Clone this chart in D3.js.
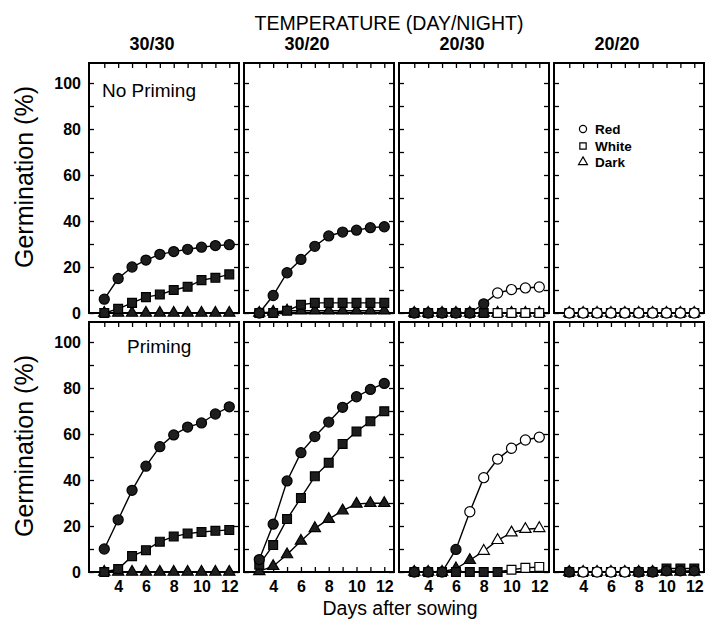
<!DOCTYPE html>
<html><head><meta charset="utf-8">
<script src="https://cdn.jsdelivr.net/npm/d3@7"></script>
<style>
html,body{margin:0;padding:0;background:#fff;}
text{font-family:"Liberation Sans",Arial,Helvetica,sans-serif;fill:#000;}
</style></head>
<body><svg id="chart" width="706" height="622"></svg>
<script>
// ---- data ----
const days = [3,4,5,6,7,8,9,10,11,12];
const temps = ["30/30","30/20","20/30","20/20"];
const treatments = ["No Priming","Priming"];
const seriesNames = ["Red","White","Dark"];
const yTicks = [0,20,40,60,80,100];
const xTickLabels = [4,6,8,10,12];

// No priming, one array per temperature (30/30, 30/20, 20/30, 20/20)
const noPrimingRed = [
  [6,15,20,23,25.5,26.7,27.7,28.6,29.3,29.7],
  [0,7.6,17.5,23.3,29,33.5,35.2,36,37.1,37.5],
  [0,0,0,0,0,4,8.7,10.2,10.9,11.3],
  [0,0,0,0,0,0,0,0,0,0]
];
const noPrimingWhite = [
  [0,1.8,4.4,6.9,8,10,11.4,14.3,15.3,16.8],
  [0,0,1,3.6,4.4,4.4,4.4,4.4,4.4,4.4],
  [0,0,0,0,0,0,0,0,0,0],
  [0,0,0,0,0,0,0,0,0,0]
];
const noPrimingDark = [
  [0,0,0,0,0,0,0,0,0,0],
  [0,0.5,1,1,1,1,1,1,1,1],
  [0,0,0,0,0,0,0,0,0,0],
  [0,0,0,0,0,0,0,0,0,0]
];
const primingRed = [
  [10,22.7,35.5,46,54.5,59.6,63,64.8,68.7,71.8],
  [5.4,20.8,39.6,51.9,58.9,65.2,71.6,76.2,79.4,82],
  [0,0,0,9.8,26.2,41,49.1,53.8,57.4,58.6],
  [0,0,0,0,0,0,0,0.5,0.5,0.5]
];
const primingWhite = [
  [0,1.3,6.9,9.5,13.2,15.4,16.7,17.4,17.9,18.3],
  [3.2,11.7,23,32.2,41.6,47.5,55.7,61.1,65.5,69.9],
  [0,0,0,0,0,0,0,1,1.8,2.2],
  [0,0,0,0,0,0,0,1.5,1.5,1.5]
];
const primingDark = [
  [0,0,0,0,0,0,0,0,0,0],
  [0.3,2.5,7.6,13.5,19,23,26.7,29.6,29.9,29.9],
  [0,0,0,1.5,5.1,9.1,13.8,17.1,18.6,19],
  [0,0,0,0,0,0,0,0,0,0]
];

// ---- styles (which markers appear open in the scan) ----
const openDays = {
  "0-2-Red":[9,10,11,12], "0-2-White":[9,10,11,12],
  "0-3-Red":days, "0-3-White":days, "0-3-Dark":days,
  "1-2-Red":[7,8,9,10,11,12], "1-2-Dark":[8,9,10,11,12], "1-2-White":[10,11,12],
  "1-3-Red":[4,5,6,7]
};

const dataByRow = [
  {Red:noPrimingRed, White:noPrimingWhite, Dark:noPrimingDark},
  {Red:primingRed, White:primingWhite, Dark:primingDark}
];

const svg = d3.select("#chart");
const panelLefts = [89,244,399,554];
const panelW = 150, panelH = 250;
const panelTops = [63,322];

const x0 = d3.scaleLinear().domain([1.9,12.7]).range([0,panelW]);
const y0 = d3.scaleLinear().domain([0,108.7]).range([panelH,0]);

const symType = {Red:d3.symbolCircle, White:d3.symbolSquare, Dark:d3.symbolTriangle};
const symSize = {Red:80, White:78, Dark:55};

// Title and column headers
svg.append("text").attr("x",389).attr("y",30).attr("text-anchor","middle")
  .style("font-size","19.5px").text("TEMPERATURE (DAY/NIGHT)");
temps.forEach((t,i)=>{
  svg.append("text").attr("x",panelLefts[i]+panelW/2-12).attr("y",50)
    .attr("text-anchor","middle").style("font-size","18px").style("font-weight","bold").text(t);
});

const yLabelCenters = [177,446];

treatments.forEach((tr,r)=>{
  // Y label
  svg.append("text")
    .attr("transform",`translate(33,${yLabelCenters[r]}) rotate(-90)`)
    .attr("text-anchor","middle").style("font-size","25px").text("Germination (%)");

  temps.forEach((t,c)=>{
    const g = svg.append("g").attr("transform",`translate(${panelLefts[c]},${panelTops[r]})`);
    // ticks inward
    const yMinor = d3.range(0,101,10);
    const yAxisL = d3.axisLeft(y0).tickValues(yMinor).tickSize(-5).tickFormat("");
    const yAxisR = d3.axisRight(y0).tickValues(yMinor).tickSize(-5).tickFormat("");
    const xAxisT = d3.axisTop(x0).tickValues(days).tickSize(-5).tickFormat("");
    const xAxisB = d3.axisBottom(x0).tickValues(days).tickSize(-5).tickFormat("");
    [g.append("g").call(yAxisL),
     g.append("g").attr("transform",`translate(${panelW},0)`).call(yAxisR),
     g.append("g").call(xAxisT),
     g.append("g").attr("transform",`translate(0,${panelH})`).call(xAxisB)]
      .forEach(a=>{a.select(".domain").remove(); a.selectAll("line").attr("stroke","#000").attr("stroke-width",1.3);});

    // tick labels
    if(c===0){
      const yl = d3.axisLeft(y0).tickValues(yTicks).tickSize(0).tickPadding(8);
      const a = g.append("g").call(yl);
      a.select(".domain").remove();
      a.selectAll("text").style("font-size","16px").style("font-weight","bold")
        .style("font-family","'Liberation Sans',Arial,sans-serif");
    }
    if(r===1){
      const xl = d3.axisBottom(x0).tickValues(xTickLabels).tickSize(0).tickPadding(9);
      const a = g.append("g").attr("transform",`translate(0,${panelH})`).call(xl);
      a.select(".domain").remove();
      a.selectAll("text").style("font-size","16px").style("font-weight","bold")
        .style("font-family","'Liberation Sans',Arial,sans-serif");
    }

    // frame
    g.append("rect").attr("x",0).attr("y",0).attr("width",panelW).attr("height",panelH)
      .attr("fill","none").attr("stroke","#000").attr("stroke-width",2);

    // series: draw Dark, White, then Red on top
    ["Dark","White","Red"].forEach(s=>{
      const vals = dataByRow[r][s][c];
      const pts = days.map((d,i)=>({d, v:vals[i]}));
      const line = d3.line().x(p=>x0(p.d)).y(p=>y0(p.v));
      g.append("path").datum(pts).attr("d",line).attr("fill","none")
        .attr("stroke","#000").attr("stroke-width",1.4);
      const open = openDays[`${r}-${c}-${s}`] || [];
      g.selectAll(null).data(pts).enter().append("path")
        .attr("transform",p=>`translate(${x0(p.d)},${y0(p.v)})`)
        .attr("d",d3.symbol().type(symType[s]).size(symSize[s]))
        .attr("fill",p=>open.includes(p.d)?"#fff":"#1e1e1e")
        .attr("stroke","#000").attr("stroke-width",1.2);
    });
  });
});

// panel annotations
svg.append("text").attr("x",102).attr("y",97).style("font-size","19px").text("No Priming");
svg.append("text").attr("x",127).attr("y",353).style("font-size","19px").text("Priming");

// legend
const legY = [129,146,162];
seriesNames.forEach((s,i)=>{
  svg.append("path").attr("transform",`translate(583,${legY[i]})`)
    .attr("d",d3.symbol().type(symType[s]).size(s==="Dark"?34:40))
    .attr("fill","#fff").attr("stroke","#000").attr("stroke-width",1.2);
  svg.append("text").attr("x",595).attr("y",legY[i]+5).style("font-size","13.5px")
    .style("font-weight","bold").text(s);
});

// x label
svg.append("text").attr("x",400).attr("y",615).attr("text-anchor","middle")
  .style("font-size","19.5px").text("Days after sowing");
</script></body></html>
